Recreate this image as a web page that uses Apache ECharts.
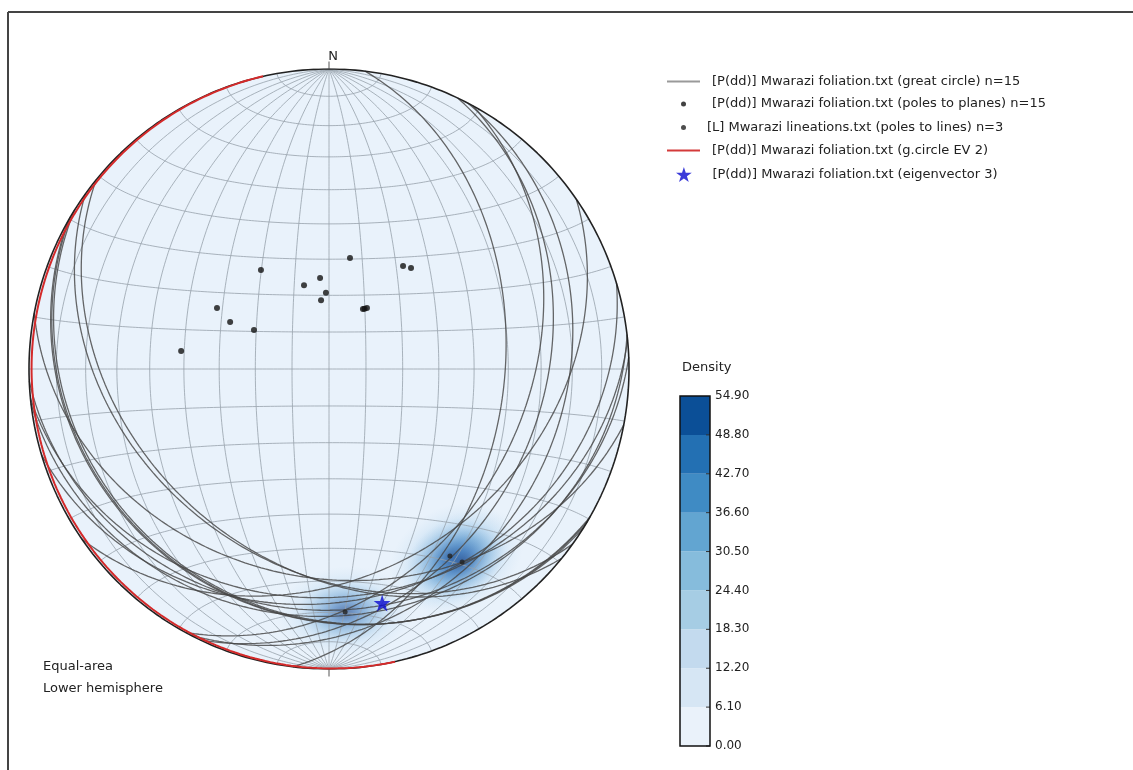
<!DOCTYPE html>
<html>
<head>
<meta charset="utf-8">
<script src="https://cdn.jsdelivr.net/npm/echarts@6/dist/echarts.min.js"></script>
<style>
html, body { margin: 0; padding: 0; background: #fff; }
#stereonet { width: 1133px; height: 770px; }
</style>
</head>
<body>
<div id="stereonet"></div>
<script>
// foliation planes: dip direction / dip (degrees)
var foliationDipDir = [190.7, 215.7, 219.1, 145.5, 174.4, 163.4, 177.7, 173.4, 209.5, 211.9, 118.6, 115.4, 117.5, 96.9, 210.5]
var foliationDip = [30.9, 34.8, 35.7, 32.9, 24.9, 23.8, 20.7, 18.8, 18.7, 19.5, 35.0, 29.9, 23.0, 41.1, 19.0]
// lineations: trend / plunge
var lineationTrend = [147.1, 145.4, 176.2]
var lineationPlunge = [26.7, 22.9, 19.9]
// eigenvector 3 (trend, plunge) and plane normal to eigenvector 2 (dip dir, dip)
var eigenvector3 = [167.2, 21.1]
var ev2Plane = [257.3, 1.0]
// density colour bar
var densityLevels = [0, 6.1, 12.2, 18.3, 24.4, 30.5, 36.6, 42.7, 48.8, 54.9]
var densityColors = ['#eaf2fa', '#d6e6f4', '#c3daee', '#a6cde4', '#86bcdc', '#62a5d1', '#3f8bc4', '#2370b3', '#0b4f97']

var NAME_GC = '[P(dd)] Mwarazi foliation.txt (great circle) n=15'
var NAME_POLES = '[P(dd)] Mwarazi foliation.txt (poles to planes) n=15'
var NAME_LIN = '[L] Mwarazi lineations.txt (poles to lines) n=3'
var NAME_EV2 = '[P(dd)] Mwarazi foliation.txt (g.circle EV 2)'
var NAME_EV3 = '[P(dd)] Mwarazi foliation.txt (eigenvector 3)'
var STAR = 'path://M10 0 L12.245 6.91 L19.511 6.91 L13.633 11.18 L15.878 18.09 L10 13.82 L4.122 18.09 L6.367 11.18 L0.489 6.91 L7.755 6.91 Z'

var D2R = Math.PI / 180

// equal-area, lower hemisphere, primitive radius = 1
function project (trend, plunge) {
  var r = Math.SQRT2 * Math.sin((90 - plunge) / 2 * D2R)
  return [r * Math.sin(trend * D2R), r * Math.cos(trend * D2R)]
}

function greatCircle (dipDir, dip) {
  var s = (dipDir - 90) * D2R
  var dd = dipDir * D2R
  var d = dip * D2R
  var pts = []
  for (var t = 0; t <= 180; t += 1) {
    var c = Math.cos(t * D2R)
    var sn = Math.sin(t * D2R)
    var n = c * Math.cos(s) + sn * Math.cos(dd) * Math.cos(d)
    var e = c * Math.sin(s) + sn * Math.sin(dd) * Math.cos(d)
    var down = sn * Math.sin(d)
    pts.push(project(Math.atan2(e, n) / D2R, Math.asin(Math.min(1, down)) / D2R))
  }
  return pts
}

// lon/lat net (poles of the net at N and S)
function lambert (lon, lat) {
  var l = lon * D2R
  var p = lat * D2R
  var k = Math.sqrt(2 / (1 + Math.cos(p) * Math.cos(l))) / Math.SQRT2
  return [k * Math.cos(p) * Math.sin(l), k * Math.sin(p)]
}

var series = []

// net background
series.push({
  type: 'custom',
  z: 0,
  silent: true,
  data: [[0, 0]],
  renderItem: function (params, api) {
    var c = api.coord([0, 0])
    var edge = api.coord([1, 0])
    return { type: 'circle', shape: { cx: c[0], cy: c[1], r: edge[0] - c[0] }, style: { fill: '#e9f2fb' } }
  }
})

// density around the lineations
series.push({
  type: 'scatter',
  name: 'density',
  z: 1,
  silent: true,
  data: lineationTrend.map(function (t, i) {
    var theta = 90 - lineationPlunge[i]
    var f = Math.cos(theta / 2 * D2R)
    var base = 112
    return { value: project(t, lineationPlunge[i]), symbolSize: [base / f, base * f], symbolRotate: 180 - t }
  }),
  itemStyle: {
    color: {
      type: 'radial', x: 0.5, y: 0.5, r: 0.5,
      colorStops: [
        { offset: 0, color: 'rgba(6,48,120,0.78)' },
        { offset: 0.2, color: 'rgba(20,90,170,0.62)' },
        { offset: 0.45, color: 'rgba(50,130,195,0.38)' },
        { offset: 0.7, color: 'rgba(120,180,225,0.16)' },
        { offset: 1, color: 'rgba(160,200,230,0)' }
      ]
    }
  }
})

// net lines
var gridStyle = { color: '#97a1ab', width: 0.8 }
for (var lon = -80; lon <= 80; lon += 10) {
  var mer = []
  for (var la = -90; la <= 90; la += 1) mer.push(lambert(lon, la))
  series.push({ type: 'line', name: 'net', z: 2, silent: true, symbol: 'none', data: mer, lineStyle: gridStyle })
}
for (var lat = -80; lat <= 80; lat += 10) {
  var par = []
  for (var lo = -90; lo <= 90; lo += 1) par.push(lambert(lo, lat))
  series.push({ type: 'line', name: 'net', z: 2, silent: true, symbol: 'none', data: par, lineStyle: gridStyle })
}

// foliation great circles
foliationDipDir.forEach(function (dd, i) {
  series.push({
    type: 'line', name: NAME_GC, z: 3, symbol: 'none',
    data: greatCircle(dd, foliationDip[i]),
    itemStyle: { color: '#999' },
    lineStyle: { color: 'rgba(70,70,70,0.82)', width: 1.3 }
  })
})

// primitive circle
var prim = []
for (var a = 0; a <= 360; a += 1) prim.push(project(a, 0))
series.push({ type: 'line', name: 'primitive', z: 4, silent: true, symbol: 'none', data: prim, lineStyle: { color: '#222', width: 1.6 } })

// cardinal ticks
;[0, 90, 180, 270].forEach(function (az) {
  var p = project(az, 0)
  series.push({
    type: 'line', name: 'tick', z: 4, silent: true, symbol: 'none', clip: false,
    data: [p, [p[0] * 1.025, p[1] * 1.025]],
    lineStyle: { color: '#555', width: 1 }
  })
})

// great circle of eigenvector 2
series.push({
  type: 'line', name: NAME_EV2, z: 5, symbol: 'none',
  data: greatCircle(ev2Plane[0], ev2Plane[1]),
  itemStyle: { color: '#d42a2a' },
  lineStyle: { color: '#d42a2a', width: 2 }
})

// poles to planes
series.push({
  type: 'scatter', name: NAME_POLES, z: 6, symbolSize: 6,
  data: foliationDipDir.map(function (dd, i) { return project((dd + 180) % 360, 90 - foliationDip[i]) }),
  itemStyle: { color: '#111' }
})

// lineations
series.push({
  type: 'scatter', name: NAME_LIN, z: 6, symbolSize: 5,
  data: lineationTrend.map(function (t, i) { return project(t, lineationPlunge[i]) }),
  itemStyle: { color: '#222' }
})

// eigenvector 3
series.push({
  type: 'scatter', name: NAME_EV3, z: 7, symbol: STAR, symbolSize: 17,
  data: [project(eigenvector3[0], eigenvector3[1])],
  itemStyle: { color: '#0a0ad0' }
})

// colour bar: one band per level, with a short tick on its right edge
series.push({
  type: 'custom', name: 'colorbar', xAxisIndex: 1, yAxisIndex: 1, silent: true, z: 1,
  data: densityColors.map(function (c, i) { return [densityLevels[i], densityLevels[i + 1], i] }),
  renderItem: function (params, api) {
    var p0 = api.coord([0, api.value(0)])
    var p1 = api.coord([1, api.value(1)])
    var children = [
      { type: 'rect', shape: { x: p0[0], y: p1[1], width: p1[0] - p0[0], height: p0[1] - p1[1] }, style: { fill: densityColors[api.value(2)] } },
      { type: 'line', shape: { x1: p1[0] - 4, y1: p0[1], x2: p1[0], y2: p0[1] }, style: { stroke: '#333', lineWidth: 1 } }
    ]
    return { type: 'group', children: children }
  }
})

// one legend per row so every row keeps its own icon size
function legendRow (item, centerY, itemHeight, iconW, padLeft) {
  return {
    data: [item], orient: 'vertical', left: 683.5 - iconW / 2, top: centerY - 7,
    padding: 0, itemWidth: 33, itemHeight: itemHeight, itemGap: 0, selectedMode: false,
    textStyle: { fontFamily: 'DejaVu Sans', fontSize: 13, color: '#222', padding: [0, 0, 0, padLeft] }
  }
}

var option = {
  animation: false,
  backgroundColor: '#fff',
  textStyle: { fontFamily: 'DejaVu Sans' },
  grid: [
    { left: 29, top: 69, width: 600, height: 600 },
    { left: 680, top: 396, width: 30, height: 350, show: true, borderColor: '#111', borderWidth: 1.5, backgroundColor: 'transparent', z: 3 }
  ],
  xAxis: [
    { type: 'value', min: -1, max: 1, show: false },
    { type: 'value', min: 0, max: 1, show: false, gridIndex: 1 }
  ],
  yAxis: [
    { type: 'value', min: -1, max: 1, show: false },
    {
      type: 'value', gridIndex: 1, min: 0, max: 54.9, interval: 6.1, position: 'right',
      axisLine: { show: false, onZero: false },
      splitLine: { show: false },
      axisTick: { show: false, length: 0 },
      axisLabel: {
        customValues: densityLevels, margin: 5, color: '#222', fontSize: 12, fontFamily: 'DejaVu Sans',
        formatter: function (v) { return Number(v).toFixed(2) }
      }
    }
  ],
  legend: [
    legendRow({ name: NAME_GC, icon: 'rect', itemStyle: { color: '#9a9a9a' } }, 82, 2, 33, 7),
    legendRow({ name: NAME_POLES, icon: 'circle' }, 104.5, 5, 5, 7),
    legendRow({ name: NAME_LIN, icon: 'circle' }, 128, 5, 5, 2),
    legendRow({ name: NAME_EV2, icon: 'rect', itemStyle: { color: '#d43a3a' } }, 151, 2, 33, 7),
    legendRow({ name: NAME_EV3, icon: STAR }, 174, 15, 15, 7)
  ],
  graphic: [
    { type: 'line', shape: { x1: 8, y1: 12, x2: 1133, y2: 12 }, style: { stroke: '#444', lineWidth: 2 } },
    { type: 'line', shape: { x1: 8, y1: 12, x2: 8, y2: 770 }, style: { stroke: '#444', lineWidth: 2 } },
    { type: 'text', x: 333, y: 57, style: { text: 'N', fill: '#222', font: '13px "DejaVu Sans"', align: 'center', verticalAlign: 'middle' } },
    { type: 'text', x: 682, y: 368, style: { text: 'Density', fill: '#222', font: '13px "DejaVu Sans"', verticalAlign: 'middle' } },
    { type: 'text', x: 43, y: 656, style: { text: 'Equal-area\nLower hemisphere', fill: '#222', font: '13px "DejaVu Sans"', lineHeight: 22 } }
  ],
  series: series
}

var chart = echarts.init(document.getElementById('stereonet'))
chart.setOption(option)
</script>
</body>
</html>
